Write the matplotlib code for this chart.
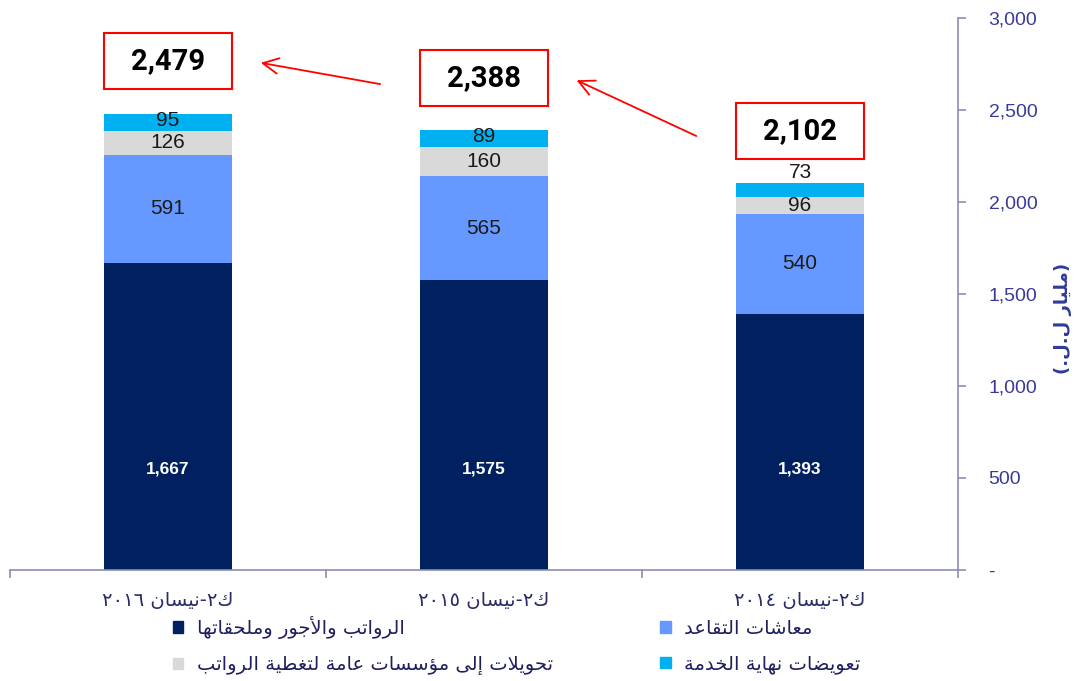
import re
import matplotlib
matplotlib.use("Agg")
import matplotlib.pyplot as plt
from matplotlib.patches import Patch, Rectangle

# البيانات (مليار ل.ل.)
periods = ["ك٢-نيسان ٢٠١٦", "ك٢-نيسان ٢٠١٥", "ك٢-نيسان ٢٠١٤"]
salaries = [1667, 1575, 1393]
pensions = [591, 565, 540]
transfers = [126, 160, 96]
end_service = [95, 89, 73]
totals = [2479, 2388, 2102]

series_names = ["الرواتب والأجور وملحقاتها", "معاشات التقاعد",
                "تحويلات إلى مؤسسات عامة لتغطية الرواتب", "تعويضات نهاية الخدمة"]
y_title = "(مليار ل.ل.)"

# --- petit "reshaper" arabe (matplotlib ne fait pas le shaping) ---
FORMS = {
    "ا": (0xFE8D, 0xFE8E), "أ": (0xFE83, 0xFE84), "إ": (0xFE87, 0xFE88),
    "ؤ": (0xFE85, 0xFE86), "ة": (0xFE93, 0xFE94), "د": (0xFEA9, 0xFEAA),
    "ر": (0xFEAD, 0xFEAE), "و": (0xFEED, 0xFEEE), "ى": (0xFEEF, 0xFEF0),
    "ب": (0xFE8F, 0xFE90, 0xFE91, 0xFE92), "ت": (0xFE95, 0xFE96, 0xFE97, 0xFE98),
    "ج": (0xFE9D, 0xFE9E, 0xFE9F, 0xFEA0), "ح": (0xFEA1, 0xFEA2, 0xFEA3, 0xFEA4),
    "خ": (0xFEA5, 0xFEA6, 0xFEA7, 0xFEA8), "س": (0xFEB1, 0xFEB2, 0xFEB3, 0xFEB4),
    "ش": (0xFEB5, 0xFEB6, 0xFEB7, 0xFEB8), "ض": (0xFEBD, 0xFEBE, 0xFEBF, 0xFEC0),
    "ط": (0xFEC1, 0xFEC2, 0xFEC3, 0xFEC4), "ع": (0xFEC9, 0xFECA, 0xFECB, 0xFECC),
    "غ": (0xFECD, 0xFECE, 0xFECF, 0xFED0), "ق": (0xFED5, 0xFED6, 0xFED7, 0xFED8),
    "ك": (0xFED9, 0xFEDA, 0xFEDB, 0xFEDC), "ل": (0xFEDD, 0xFEDE, 0xFEDF, 0xFEE0),
    "م": (0xFEE1, 0xFEE2, 0xFEE3, 0xFEE4), "ن": (0xFEE5, 0xFEE6, 0xFEE7, 0xFEE8),
    "ه": (0xFEE9, 0xFEEA, 0xFEEB, 0xFEEC), "ي": (0xFEF1, 0xFEF2, 0xFEF3, 0xFEF4),
}
LAM_ALEF = {"ا": (0xFEFB, 0xFEFC), "أ": (0xFEF7, 0xFEF8), "إ": (0xFEF9, 0xFEFA)}
MIRROR = str.maketrans("()", ")(")


def ar(text):
    out = []
    i, n = 0, len(text)
    while i < n:
        c = text[i]
        if c not in FORMS:
            out.append(c)
            i += 1
            continue
        prev = i > 0 and len(FORMS.get(text[i - 1], ())) == 4
        if c == "ل" and i + 1 < n and text[i + 1] in LAM_ALEF:
            f = LAM_ALEF[text[i + 1]]
            out.append(chr(f[1] if prev else f[0]))
            i += 2
            continue
        f = FORMS[c]
        nxt = len(f) == 4 and i + 1 < n and text[i + 1] in FORMS
        if prev and nxt:
            g = f[3]
        elif prev:
            g = f[1]
        elif nxt:
            g = f[2]
        else:
            g = f[0]
        out.append(chr(g))
        i += 1
    s = "".join(out)
    parts = re.findall(r"[0-9\u0660-\u0669]+|[^0-9\u0660-\u0669]+", s)
    return "".join(p if p[0].isdigit() else p[::-1].translate(MIRROR)
                   for p in reversed(parts))


c_sal = "#00205F"
c_pen = "#6699FF"
c_tra = "#D9D9D9"
c_eos = "#00B0F0"
axis_col = "#8C8CB4"

fig = plt.figure(figsize=(10.83, 6.81), dpi=100)
ax = fig.add_axes([0.0092, 0.163, 0.8754, 0.8106])

x = list(range(len(periods)))
w = 0.405
b1 = salaries
b2 = [a + b for a, b in zip(b1, pensions)]
b3 = [a + b for a, b in zip(b2, transfers)]
ax.bar(x, salaries, w, color=c_sal)
ax.bar(x, pensions, w, bottom=b1, color=c_pen)
ax.bar(x, transfers, w, bottom=b2, color=c_tra)
ax.bar(x, end_service, w, bottom=b3, color=c_eos)

lab = dict(ha="center", va="center", family="Liberation Sans")
for i in x:
    ax.text(i, 550, f"{salaries[i]:,}", color="white", fontsize=12.5,
            fontweight="bold", **lab)
    ax.text(i, b1[i] + pensions[i] / 2, f"{pensions[i]}", color="#1a1a1a",
            fontsize=15, **lab)
    ax.text(i, b2[i] + transfers[i] / 2, f"{transfers[i]}", color="#1a1a1a",
            fontsize=15, **lab)
    top = b3[i] + end_service[i]
    yy = top + 60 if end_service[i] < 80 else b3[i] + end_service[i] / 2 + 10
    ax.text(i, yy, f"{end_service[i]}", color="#1a1a1a", fontsize=15, **lab)

# encadrés rouges des totaux + flèches
centers = [t + 285 for t in totals]
for i in x:
    ax.add_patch(Rectangle((i - w / 2, centers[i] - 152), w, 304,
                           facecolor="white", edgecolor="red", lw=1.5,
                           zorder=3))
    ax.text(i, centers[i], f"{totals[i]:,}", ha="center", va="center",
            fontsize=21, fontweight="bold", family="Roboto", zorder=4)
for i in x[:-1]:
    ax.annotate("", xy=(i + 0.285, centers[i] - 5),
                xytext=(i + 0.68, centers[i + 1] - 35),
                arrowprops=dict(arrowstyle="->", color="red", lw=1.3,
                                mutation_scale=28))

ax.set_xlim(-0.5, 2.5)
ax.set_ylim(0, 3000)

for s in ["left", "top"]:
    ax.spines[s].set_visible(False)
for s in ["right", "bottom"]:
    ax.spines[s].set_color(axis_col)
    ax.spines[s].set_linewidth(1.2)

ax.yaxis.tick_right()
yt = list(range(0, 3001, 500))
ax.set_yticks(yt)
ax.set_yticklabels(["-" if v == 0 else f"{v:,}" for v in yt])
ax.tick_params(axis="y", direction="out", length=6, width=1.2,
               color=axis_col, labelcolor="#3A3A9A", labelsize=14, pad=16)
for t in ax.get_yticklabels():
    t.set_family("Liberation Sans")

ax.set_xticks(x)
ax.set_xticklabels([ar(p) for p in periods], color="#2B2B6B", fontsize=14)
ax.set_xticks([-0.5, 0.5, 1.5, 2.5], minor=True)
ax.tick_params(axis="x", which="major", length=0, pad=15)
ax.tick_params(axis="x", which="minor", direction="out", length=6, width=1.2,
               color=axis_col)

fig.text(1063 / 1083, 1 - 318 / 681, ar(y_title), rotation=90, ha="center",
         va="center", color="#2F3A9A", fontsize=13, fontweight="bold")

cols = [c_sal, c_pen, c_tra, c_eos]
order = [0, 2, 1, 3]
handles = [Patch(color=cols[k]) for k in order]
labels = [ar(series_names[k]) for k in order]
leg = fig.legend(handles, labels, ncol=2, loc="center",
                 bbox_to_anchor=(0.477, 0.052), frameon=False, fontsize=14,
                 handlelength=0.55, handleheight=0.55, handletextpad=0.7,
                 columnspacing=5.5, labelspacing=0.85)
for t in leg.get_texts():
    t.set_color("#1F1F5F")

fig.savefig("out.png", dpi=100)
